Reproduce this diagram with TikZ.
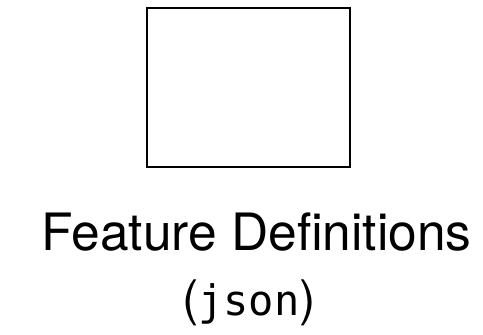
\documentclass[tikz,border=0pt]{standalone}
\usepackage{fontspec}
\setmainfont{TeX Gyre Heros}
\setmonofont{DejaVu Sans Mono}
\usetikzlibrary{positioning}

\begin{document}
\begin{tikzpicture}[x=1pt,y=-1pt]
  \useasboundingbox (0,0) rectangle (483,335);
  % feature box
  \node[draw, line width=2pt, minimum width=203pt, minimum height=159pt, inner sep=0pt]
    (featbox) at (248.5,87.5) {};
  % caption
  \node[anchor=base, inner sep=0pt, font=\fontsize{51.5}{60}\selectfont]
    (feattitle) at (256.5,250) {Feature Definitions};
  \node[anchor=base, inner sep=0pt, font=\fontsize{49}{56}\selectfont]
    (feattype) at (249,315) {(\texttt{\fontsize{42}{50}\selectfont json})};
\end{tikzpicture}
\end{document}
